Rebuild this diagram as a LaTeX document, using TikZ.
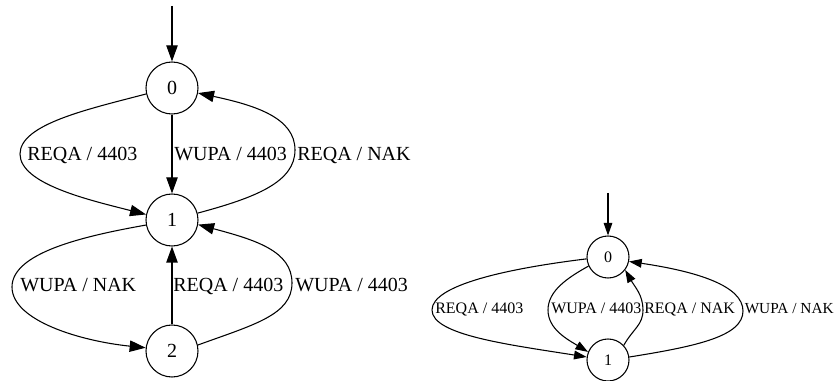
\documentclass[tikz,border=0pt]{standalone}
\usepackage{fontspec}
\setmainfont{Liberation Serif}
\usetikzlibrary{arrows.meta}
\begin{document}
\begin{tikzpicture}[x=0.75pt,y=0.75pt,
  bigstate/.style={circle,draw,line width=0.8pt,minimum size=39pt,inner sep=0pt,font=\fontsize{15}{18}\selectfont},
  smallstate/.style={circle,draw,line width=0.8pt,minimum size=31.5pt,inner sep=0pt,font=\fontsize{12}{14}\selectfont},
  bigedge/.style={line width=0.8pt,-{Triangle[length=12pt,width=8.5pt]}},
  smalledge/.style={line width=0.8pt,-{Triangle[length=9.5pt,width=6.5pt]}},
  biglabel/.style={anchor=base west,inner sep=0pt,font=\fontsize{15}{18}\selectfont},
  smalllabel/.style={anchor=base west,inner sep=0pt,font=\fontsize{12}{14}\selectfont}]
\useasboundingbox (0,0) rectangle (836,381);

% ---- first automaton: states 0, 1, 2 ----
\node[bigstate] (n0) at (172,293) {0};
\node[bigstate] (n1) at (172,161) {1};
\node[bigstate] (n2) at (172,30) {2};
\coordinate (s0) at (172,375);
\draw[bigedge] (s0) -- (n0);

% 0 -> 1
\draw[bigedge] (n0) -- (n1);
\node[biglabel] (l01b) at (174,220.3) {WUPA / 4403};
\draw[bigedge] (n0.193) .. controls (89,272) and (20,257) .. (20,227)
               .. controls (20,197) and (89,181) .. (n1.168);
\node[biglabel] (l01a) at (27,220.3) {REQA / 4403};

% 1 -> 0
\draw[bigedge] (n1.15) .. controls (256,183.5) and (295,199) .. (295,231)
               .. controls (295,263) and (256,275.5) .. (n0.-11);
\node[biglabel] (l10) at (297,220.3) {REQA / NAK};

% 1 -> 2
\draw[bigedge] (n1.191) .. controls (82.5,144.7) and (12,128) .. (12,94)
               .. controls (12,60) and (81.4,39.8) .. (n2.173);
\node[biglabel] (l12) at (20,89.3) {WUPA / NAK};

% 2 -> 1
\draw[bigedge] (n2) -- (n1);
\node[biglabel] (l21a) at (173,89.3) {REQA / 4403};
\draw[bigedge] (n2.13) .. controls (253.7,56.3) and (292,66) .. (292,98)
               .. controls (292,130) and (255.6,141) .. (n1.-10);
\node[biglabel] (l21b) at (295,89.3) {WUPA / 4403};

% ---- second automaton: states 0, 1 ----
\node[smallstate] (m0) at (608,124) {0};
\node[smallstate] (m1) at (608,21) {1};
\coordinate (t0) at (608,188);
\draw[smalledge] (t0) -- (m0);

% 0 -> 1
\draw[smalledge] (m0.185) .. controls (507.7,112.5) and (432,96) .. (432,71)
                 .. controls (432,46) and (508.2,36.4) .. (m1.172);
\node[smalllabel] (k01a) at (435,67) {REQA / 4403};
\draw[smalledge] (m0.205) .. controls (567.1,103) and (548,90) .. (548,71)
                 .. controls (548,52) and (567.1,41.8) .. (m1.158);
\node[smalllabel] (k01b) at (551,67) {WUPA / 4403};

% 1 -> 0
\draw[smalledge] (m1.43) .. controls (633.4,52.6) and (643,56) .. (643,71)
                 .. controls (643,86) and (634.8,94.1) .. (m0.-37);
\node[smalllabel] (k10a) at (644,67) {REQA / NAK};
\draw[smalledge] (m1.8) .. controls (698,34.9) and (743,45) .. (743,70)
                 .. controls (743,95) and (697.7,109.4) .. (m0.-12);
\node[smalllabel,font=\fontsize{11.5}{14}\selectfont] (k10b) at (744.5,67) {WUPA / NAK};
\end{tikzpicture}
\end{document}
